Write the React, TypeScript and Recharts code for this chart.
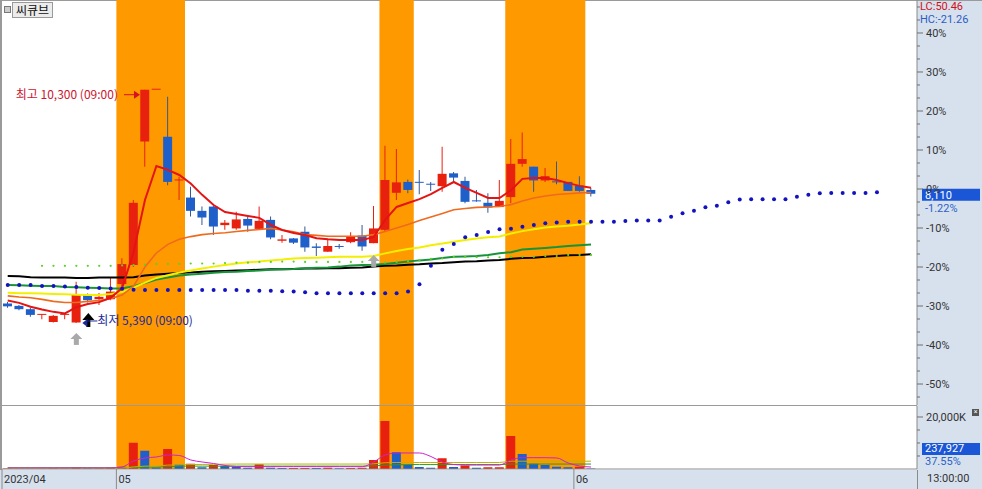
import React from "react";
import {
  ComposedChart,
  Bar,
  Line,
  XAxis,
  YAxis,
  ReferenceArea,
  ReferenceDot,
  ReferenceLine,
  Cell,
} from "recharts";

// 기준가 (0%)
const BASE = 8210;
const SLOTS = 80;

const open = [5800, 5750, 5680, 5560, 5410, 5560, 5400, 5980, 5890, 5890, 6210, 6610, 9210, 10300, 9310, 8390, 8030, 7750, 7840, 7450, 7380, 7580, 7370, 7560, 7120, 7170, 7310, 7000, 6890, 7010, 7090, 7230, 7070, 7350, 8130, 8360, 8360, 8320, 8270, 8540, 8380, 7970, 7920, 7830, 8040, 8740, 8680, 8390, 8370, 8360, 8280, 8190];
const high = [5830, 5770, 5710, 5580, 5560, 5580, 6260, 6010, 6020, 6360, 6750, 7980, 10300, 10300, 10150, 8470, 8260, 7840, 7850, 7560, 7730, 7630, 7840, 7630, 7240, 7180, 7420, 7070, 7150, 7050, 7300, 7450, 7850, 9120, 9050, 8410, 8610, 8360, 9100, 8570, 8470, 8190, 8120, 8400, 9260, 9400, 8680, 8650, 8790, 8360, 8480, 8230];
const low = [5710, 5660, 5520, 5470, 5400, 5470, 5390, 5820, 5770, 5870, 6150, 6570, 8680, 10300, 8290, 7980, 7630, 7450, 7240, 7350, 7350, 7310, 7370, 7150, 7080, 7050, 6890, 6800, 6890, 6950, 7070, 6910, 7070, 7310, 7980, 8120, 8100, 8170, 8150, 8360, 7910, 7940, 7710, 7830, 7910, 8680, 8150, 8360, 8310, 8170, 8150, 8050];
const close = [5740, 5680, 5560, 5580, 5540, 5580, 6000, 5870, 5940, 6050, 6630, 7920, 10300, 10300, 8360, 8410, 7750, 7610, 7420, 7500, 7570, 7440, 7540, 7190, 7150, 7080, 6980, 6970, 7010, 6990, 7220, 7000, 7380, 8400, 8350, 8190, 8340, 8300, 8530, 8450, 7940, 7950, 7820, 7960, 8740, 8840, 8390, 8480, 8350, 8170, 8170, 8110];

// 이동평균 (%)
const ma5 = [-28.6, -29.2, -30.2, -30.9, -31.5, -31.9, -30.3, -29.5, -29.0, -27.9, -25.4, -16.2, -2.8, 5.9, 4.9, 3.6, 1.4, -1.5, -4.1, -5.9, -6.4, -6.9, -7.4, -9.2, -10.5, -11.3, -11.8, -12.6, -12.9, -13.1, -13.1, -13.1, -12.3, -7.9, -4.6, -3.6, -2.6, -1.3, 0.3, 1.8, 0.3, -1.0, -2.3, -2.3, -0.3, 2.6, 2.8, 2.8, 2.3, 1.5, 0.8, 0.3];
const ma10 = [-27.4, -27.7, -27.9, -28.3, -28.8, -29.1, -29.1, -28.8, -28.6, -28.1, -27.2, -24.9, -20.0, -16.4, -14.2, -12.9, -12.2, -11.7, -11.4, -11.2, -10.9, -10.6, -10.4, -10.1, -10.5, -11.0, -11.7, -11.9, -12.1, -12.1, -12.1, -12.1, -11.7, -10.9, -10.0, -9.1, -8.1, -7.2, -6.3, -5.3, -5.0, -4.7, -4.6, -4.5, -4.0, -3.1, -2.3, -1.8, -1.4, -1.2, -1.0, -0.9];
const ma20 = [-26.6, -26.7, -26.7, -26.8, -26.9, -27.0, -27.1, -27.2, -27.2, -26.9, -26.4, -25.3, -24.0, -22.8, -22.1, -21.4, -20.9, -20.4, -19.9, -19.5, -19.1, -18.8, -18.6, -18.3, -18.1, -17.8, -17.7, -17.6, -17.5, -17.4, -17.4, -17.4, -17.2, -16.5, -15.9, -15.4, -15.0, -14.4, -14.0, -13.5, -13.1, -12.7, -12.4, -12.2, -11.4, -10.8, -10.3, -9.9, -9.6, -9.4, -9.1, -8.8];
const ma60 = [-24.6, -24.7, -24.8, -24.9, -24.9, -25.1, -25.2, -25.3, -25.4, -25.5, -25.5, -24.9, -24.1, -23.2, -22.7, -22.2, -21.9, -21.7, -21.5, -21.3, -21.2, -21.0, -20.9, -20.7, -20.6, -20.5, -20.3, -20.2, -20.1, -19.9, -19.6, -19.5, -19.4, -19.2, -18.9, -18.6, -18.3, -18.1, -17.7, -17.4, -17.3, -17.2, -16.9, -16.5, -16.2, -15.5, -15.3, -15.1, -14.9, -14.6, -14.4, -14.2];
const ma120 = [-22.3, -22.4, -22.6, -22.7, -22.7, -22.7, -22.8, -22.8, -22.7, -22.7, -22.7, -22.6, -22.2, -21.9, -21.7, -21.5, -21.4, -21.2, -21.1, -21.0, -20.9, -20.8, -20.7, -20.6, -20.6, -20.5, -20.4, -20.4, -20.3, -20.3, -20.2, -20.1, -19.9, -19.7, -19.6, -19.4, -19.3, -19.1, -19.0, -18.8, -18.6, -18.5, -18.3, -18.2, -17.9, -17.7, -17.6, -17.4, -17.2, -17.0, -16.9, -16.7];
const greenDots = [null, null, null, -19.7, -19.7, -19.7, -19.7, -19.7, -19.7, -19.7, -19.6, -19.5, -19.4, -19.2, -19.2, -19.2, -19.1, -19.1, -19.1, -19.0, -18.9, -18.9, -18.7, -18.7, -18.6, -18.6, -18.7, -18.7, -18.7, -18.7, -18.7, -18.7, -18.9, -18.9, -18.7, -18.5, -18.2, -17.9, -17.8, -17.4, -17.4, -17.5, -17.5, -17.5, -17.4, -17.4, -17.4, -17.2, -17.2, -16.9, -16.9, -16.9];
const blueDots = [-24.6, -24.6, -24.6, -24.9, -24.9, -25.0, -25.1, -25.3, -25.4, -25.5, -25.6, -25.8, -25.9, -25.9, -25.9, -25.9, -25.9, -25.9, -25.9, -25.9, -25.9, -26.1, -26.1, -26.1, -26.2, -26.3, -26.5, -26.7, -26.7, -26.7, -26.7, -26.7, -26.7, -26.7, -26.7, -26.3, -24.4, -19.7, -15.6, -14.1, -12.4, -11.8, -11.0, -10.3, -10.2, -9.7, -9.2, -8.8, -8.6, -8.4, -8.4, -8.4, -8.4, -8.4, -8.2, -8.1, -8.1, -8.1, -7.1, -6.2, -5.6, -4.7, -4.3, -3.4, -2.7, -2.6, -2.6, -2.6, -2.6, -2.0, -1.5, -1.1, -1.0, -1.0, -1.0, -1.0, -0.8];

// 거래량 (천주)
const volume = [150, 120, 100, 120, 300, 150, 700, 250, 250, 600, 900, 10100, 7040, 600, 7690, 1700, 2000, 700, 1500, 1200, 900, 500, 1800, 500, 400, 400, 400, 350, 500, 300, 400, 500, 3460, 18460, 6420, 1500, 800, 500, 4120, 800, 1300, 500, 700, 700, 12690, 5770, 2000, 1500, 900, 700, 900, 238];
const volMa5 = [390, 390, 390, 390, 390, 390, 390, 390, 390, 390, 770, 3080, 4240, 4620, 5390, 5200, 3470, 2700, 2120, 1350, 960, 890, 890, 890, 890, 890, 890, 890, 890, 890, 890, 890, 2700, 5390, 6160, 6160, 6160, 4810, 2700, 1730, 1540, 1540, 1540, 1540, 3470, 4350, 4350, 4350, 4240, 2310, 1160, 770];
const volMa20 = [350, 350, 350, 350, 350, 350, 350, 350, 350, 350, 350, 800, 1100, 1150, 1500, 1600, 1700, 1750, 1800, 1850, 1900, 1900, 1900, 1900, 1900, 1900, 1900, 1900, 1900, 1900, 1900, 1900, 2000, 2400, 2500, 2500, 2500, 2500, 2500, 2500, 2500, 2500, 2500, 2500, 3000, 3000, 3000, 3000, 3000, 3000, 3000, 3000];
const volMa60 = [500, 500, 500, 500, 500, 500, 500, 500, 500, 500, 500, 600, 700, 750, 900, 1100, 1100, 1100, 1100, 1100, 1100, 1100, 1100, 1100, 1100, 1100, 1100, 1100, 1100, 1100, 1100, 1100, 1200, 1500, 1600, 1700, 1700, 1700, 1700, 1700, 1700, 1700, 1700, 1700, 1900, 1900, 1900, 1900, 1900, 1900, 1900, 1900];

const highlights = [
  [10, 15],
  [33, 35],
  [44, 50],
];
const monthTicks = [0, 10, 50];
const monthLabels = ["2023/04", "05", "06"];
const pctMajor = [-50, -40, -30, -20, -10, 0, 10, 20, 30, 40];
const signals = [
  { i: 6, at: -36.9 },
  { i: 32, at: -16.9 },
];
const hiIdx = 12;
const loIdx = 6;

const PCT_TOP = 48.46;
const PCT_BOTTOM = -55.38;
const VOL_TOP = 24230;

const UP = "#e8210f";
const DOWN = "#1f5fca";
const BAND = "#ff9900";
const PANEL = "#d7e1ee";
const NUM = "Roboto, 'Noto Sans CJK KR', sans-serif";
const KOR = "'Noto Sans CJK KR', Roboto, sans-serif";
const HALF = (982 - 2 - 65) / SLOTS / 2;

const pct = (p: number) => (p / BASE - 1) * 100;

const pctTicks: number[] = [];
pctMajor.forEach((m) => {
  pctTicks.push(m);
  if (m - 10 / 3 > PCT_BOTTOM) pctTicks.push(m - 10 / 3, m - 20 / 3);
});
pctTicks.push(40 + 10 / 3, 40 + 20 / 3);

const rows = Array.from({ length: SLOTS }, (_, i) => {
  const has = i < close.length;
  return {
    i,
    wick: has ? [pct(low[i]), pct(high[i])] : null,
    body: has ? [pct(Math.min(open[i], close[i])), pct(Math.max(open[i], close[i]))] : null,
    up: has ? close[i] >= open[i] : true,
    ma5: has ? ma5[i] : null,
    ma10: has ? ma10[i] : null,
    ma20: has ? ma20[i] : null,
    ma60: has ? ma60[i] : null,
    ma120: has ? ma120[i] : null,
    lag: has ? greenDots[i] : null,
    lead: i < blueDots.length ? blueDots[i] : null,
  };
});

const volRows = Array.from({ length: SLOTS }, (_, i) => {
  const has = i < volume.length;
  return {
    i,
    vol: has ? volume[i] : null,
    up: has ? i === 0 || volume[i] >= volume[i - 1] : true,
    vm5: has ? volMa5[i] : null,
    vm20: has ? volMa20[i] : null,
    vm60: has ? volMa60[i] : null,
  };
});

const PctTick = (props: any) => {
  const { x, y, payload } = props;
  const v = payload.value;
  const major = Math.abs(v - Math.round(v / 10) * 10) < 0.01;
  const ax = x - 8;
  return (
    <g>
      <line x1={ax} x2={ax + (major ? 6 : 3)} y1={y} y2={y} stroke="#6f6f6f" />
      {major && (
        <text x={ax + 9} y={y + 4} fontSize={11} fill="#333" fontFamily={NUM}>
          {`${v}%`}
        </text>
      )}
    </g>
  );
};

const VolTick = (props: any) => {
  const { x, y, payload } = props;
  const v = payload.value;
  const ax = x - 8;
  const major = v === 20000;
  return (
    <g>
      <line x1={ax} x2={ax + (major ? 6 : 3)} y1={y} y2={y} stroke="#6f6f6f" />
      {major && (
        <text x={ax + 9} y={y + 4} fontSize={11} fill="#333" fontFamily={NUM}>
          {`${v.toLocaleString()}K`}
        </text>
      )}
    </g>
  );
};

const MonthTick = (props: any) => {
  const { x, y, payload } = props;
  const k = monthTicks.indexOf(payload.value);
  const left = x - HALF;
  return (
    <g>
      <line x1={left} x2={left} y1={y} y2={y + 20} stroke="#8a8a8a" />
      <text x={left + 2} y={y + 14} fontSize={11} fill="#333" fontFamily={NUM}>
        {monthLabels[k]}
      </text>
    </g>
  );
};

const HighMark = ({ cx, cy }: any) => (
  <g>
    <text x={cx - 27} y={cy + 9} textAnchor="end" fontSize={12} fill="#cc1430" fontFamily={KOR}>
      {`최고 ${high[hiIdx].toLocaleString()} (09:00)`}
    </text>
    <line x1={cx - 21} x2={cx - 10} y1={cy + 5} y2={cy + 5} stroke="#d81020" />
    <polygon points={`${cx - 5},${cy + 5} ${cx - 11},${cy + 1} ${cx - 11},${cy + 9}`} fill="#d81020" />
  </g>
);

const LowMark = ({ cx, cy }: any) => (
  <g>
    <polygon points={`${cx + 12},${cy - 10} ${cx + 6},${cy - 3} ${cx + 18},${cy - 3}`} fill="#000" />
    <rect x={cx + 10} y={cy - 3} width={4} height={7} fill="#000" />
    <polygon points={`${cx + 6},${cy} ${cx + 11},${cy - 4} ${cx + 11},${cy + 4}`} fill="#1a2a9a" />
    <line x1={cx + 11} x2={cx + 21} y1={cy - 2} y2={cy - 2} stroke="#1a2a9a" />
    <text x={cx + 21} y={cy + 2} fontSize={12} fill="#1a2a9a" fontFamily={KOR}>
      {`최저 ${low[loIdx].toLocaleString()} (09:00)`}
    </text>
  </g>
);

const SignalArrow = ({ cx, cy }: any) => (
  <g>
    <polygon points={`${cx},${cy} ${cx - 6},${cy + 6} ${cx + 6},${cy + 6}`} fill="#a9a9a9" />
    <rect x={cx - 2.5} y={cy + 6} width={5} height={6} fill="#a9a9a9" />
  </g>
);

const lastClose = close[close.length - 1];

const PriceTag = (props: any) => {
  const vb = props.viewBox;
  const x0 = vb.x + vb.width + 5;
  const yy = vb.y;
  return (
    <g>
      <rect x={x0} y={yy - 5} width={58} height={12} fill="#1a56d6" />
      <text x={x0 + 3} y={yy + 5} fontSize={11} fill="#fff" fontFamily={NUM}>
        {lastClose.toLocaleString()}
      </text>
      <text x={x0 + 3} y={yy + 18} fontSize={11} fill="#2a62c9" fontFamily={NUM}>
        {`${pct(lastClose).toFixed(2)}%`}
      </text>
    </g>
  );
};

export default function App() {
  const lastVol = 237927;
  return (
    <div
      style={{
        position: "fixed",
        left: 0,
        top: 0,
        width: 982,
        height: 489,
        background: "#fff",
        overflow: "hidden",
        fontFamily: NUM,
      }}
    >
      <div style={{ position: "absolute", left: 917, top: 0, width: 65, height: 470, background: PANEL }} />
      <div style={{ position: "absolute", left: 0, top: 470, width: 982, height: 19, background: PANEL }} />
      <div style={{ position: "absolute", left: 0, top: 0, width: 2, height: 470, background: "#9a9a9a" }} />
      <div style={{ position: "absolute", left: 0, top: 0, width: 982, height: 1, background: "#9a9a9a" }} />
      <div style={{ position: "absolute", left: 0, top: 405, width: 917, height: 1, background: "#9a9a9a" }} />

      <div style={{ position: "absolute", left: 0, top: 0 }}>
        <ComposedChart width={982} height={405} data={rows} margin={{ top: 0, right: 0, bottom: 0, left: 2 }}>
          <XAxis xAxisId="w" dataKey="i" type="category" hide />
          <XAxis xAxisId="b" dataKey="i" type="category" hide />
          <YAxis
            orientation="right"
            width={65}
            type="number"
            domain={[PCT_BOTTOM, PCT_TOP]}
            allowDataOverflow
            ticks={pctTicks}
            interval={0}
            tick={<PctTick />}
            tickLine={false}
            tickSize={6}
            tickMargin={2}
            axisLine={{ stroke: "#8a8a8a" }}
          />
          {highlights.map(([a, b]) => (
            <ReferenceArea key={a} xAxisId="b" x1={a} x2={b} fill={BAND} fillOpacity={1} stroke="none" />
          ))}
          <Bar xAxisId="w" dataKey="wick" barSize={1} isAnimationActive={false}>
            {rows.map((r) => (
              <Cell key={r.i} fill={r.up ? UP : "#35588f"} />
            ))}
          </Bar>
          <Bar xAxisId="b" dataKey="body" barSize={9} minPointSize={1} isAnimationActive={false}>
            {rows.map((r) => (
              <Cell key={r.i} fill={r.up ? UP : DOWN} />
            ))}
          </Bar>
          <Line xAxisId="b" dataKey="ma120" stroke="#000" strokeWidth={2} dot={false} type="linear" isAnimationActive={false} />
          <Line xAxisId="b" dataKey="ma60" stroke="#17943a" strokeWidth={2} dot={false} type="linear" isAnimationActive={false} />
          <Line xAxisId="b" dataKey="ma20" stroke="#f2f000" strokeWidth={2} dot={false} type="linear" isAnimationActive={false} />
          <Line xAxisId="b" dataKey="ma10" stroke="#f06a1e" strokeWidth={1.6} dot={false} type="linear" isAnimationActive={false} />
          <Line xAxisId="b" dataKey="ma5" stroke="#e41414" strokeWidth={2} dot={false} type="linear" isAnimationActive={false} />
          <Line
            xAxisId="b"
            dataKey="lag"
            stroke="none"
            dot={{ r: 1.1, fill: "#5fcf2a", stroke: "none" }}
            isAnimationActive={false}
          />
          <Line
            xAxisId="b"
            dataKey="lead"
            stroke="none"
            dot={{ r: 2, fill: "#1212c0", stroke: "none" }}
            isAnimationActive={false}
          />
          {signals.map((s) => (
            <ReferenceDot key={s.i} xAxisId="b" x={s.i} y={s.at} shape={<SignalArrow />} ifOverflow="visible" />
          ))}
          <ReferenceDot xAxisId="b" x={hiIdx} y={pct(high[hiIdx])} shape={<HighMark />} ifOverflow="visible" />
          <ReferenceDot xAxisId="b" x={loIdx} y={pct(low[loIdx])} shape={<LowMark />} ifOverflow="visible" />
          <ReferenceLine xAxisId="b" y={pct(lastClose)} stroke="none" ifOverflow="visible" label={<PriceTag />} />
        </ComposedChart>
      </div>

      <div style={{ position: "absolute", left: 0, top: 405 }}>
        <ComposedChart width={982} height={84} data={volRows} margin={{ top: 1, right: 0, bottom: 0, left: 2 }}>
          <XAxis
            dataKey="i"
            type="category"
            ticks={monthTicks}
            interval={0}
            height={20}
            tick={<MonthTick />}
            tickLine={false}
            tickSize={0}
            tickMargin={0}
            axisLine={{ stroke: "#8a8a8a" }}
          />
          <YAxis
            orientation="right"
            width={65}
            type="number"
            domain={[0, VOL_TOP]}
            allowDataOverflow
            ticks={[5000, 10000, 15000, 20000]}
            interval={0}
            tick={<VolTick />}
            tickLine={false}
            tickSize={6}
            tickMargin={2}
            axisLine={{ stroke: "#8a8a8a" }}
          />
          {highlights.map(([a, b]) => (
            <ReferenceArea key={a} x1={a} x2={b} fill={BAND} fillOpacity={1} stroke="none" />
          ))}
          <Bar dataKey="vol" barSize={9} isAnimationActive={false}>
            {volRows.map((r) => (
              <Cell key={r.i} fill={r.up ? UP : DOWN} />
            ))}
          </Bar>
          <Line dataKey="vm60" stroke="#2a9a2a" strokeWidth={1} dot={false} type="linear" isAnimationActive={false} />
          <Line dataKey="vm20" stroke="#c2b200" strokeWidth={1} dot={false} type="linear" isAnimationActive={false} />
          <Line dataKey="vm5" stroke="#cc22cc" strokeWidth={1} dot={false} type="monotone" isAnimationActive={false} />
        </ComposedChart>
      </div>

      <div style={{ position: "absolute", left: 917, top: 470, width: 1, height: 19, background: "#8a8a8a" }} />
      <div style={{ position: "absolute", left: 927, top: 472, fontSize: 11, color: "#333", lineHeight: "14px" }}>
        13:00:00
      </div>

      <div style={{ position: "absolute", left: 920, top: 1, fontSize: 11, color: "#d0101a", lineHeight: "12px" }}>
        LC:50.46
      </div>
      <div style={{ position: "absolute", left: 920, top: 14, fontSize: 11, color: "#2a5cc4", lineHeight: "12px" }}>
        HC:-21.26
      </div>

      <div
        style={{
          position: "absolute",
          left: 972,
          top: 409,
          width: 7,
          height: 7,
          background: "#555",
          color: "#fff",
          fontSize: 7,
          lineHeight: "7px",
          textAlign: "center",
        }}
      >
        ×
      </div>
      <div
        style={{
          position: "absolute",
          left: 922,
          top: 443,
          width: 58,
          height: 12,
          background: "#1a56d6",
          color: "#fff",
          fontSize: 11,
          lineHeight: "12px",
          paddingLeft: 3,
          boxSizing: "border-box",
        }}
      >
        {lastVol.toLocaleString()}
      </div>
      <div style={{ position: "absolute", left: 925, top: 456, fontSize: 11, color: "#2a62c9", lineHeight: "12px" }}>
        37.55%
      </div>

      <div style={{ position: "absolute", left: 4, top: 6, width: 5, height: 5, border: "1px solid #777", background: "#ccc" }} />
      <div
        style={{
          position: "absolute",
          left: 12,
          top: 2,
          width: 41,
          height: 16,
          boxSizing: "border-box",
          background: "#ececec",
          border: "1px solid #9a9a9a",
          fontFamily: KOR,
          fontSize: 12,
          lineHeight: "14px",
          textAlign: "center",
          color: "#111",
        }}
      >
        씨큐브
      </div>
    </div>
  );
}
